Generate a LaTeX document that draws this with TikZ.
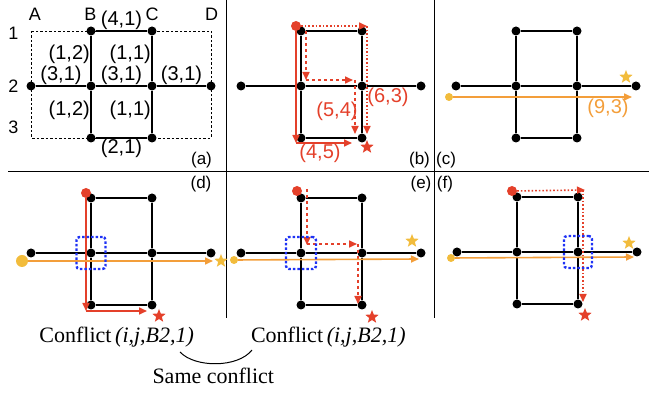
\documentclass[tikz,border=0pt]{standalone}
\usepackage{fontspec}
\setmainfont{Liberation Serif}
\setsansfont{Liberation Sans}
\usetikzlibrary{positioning, arrows.meta, shapes.geometric}
\definecolor{conred}{RGB}{228,64,42}
\definecolor{conorange}{RGB}{243,158,58}
\definecolor{conyellow}{RGB}{242,188,60}
\definecolor{conblue}{RGB}{30,50,245}
\tikzset{
    dot/.style={circle, fill=black, inner sep=0pt, minimum size=9pt},
    edge/.style={line width=2pt, black},
    frame/.style={dash pattern=on 2.5pt off 2pt, line width=0.9pt},
    sep/.style={line width=1pt, black},
    lbl/.style={font=\sffamily\fontsize{20}{22}\selectfont, inner sep=1pt},
    axis/.style={font=\sffamily\fontsize{18}{20}\selectfont, inner sep=1pt},
    tag/.style={font=\sffamily\fontsize{17}{19}\selectfont, inner sep=1pt},
    rlbl/.style={lbl, text=conred},
    olbl/.style={lbl, text=conorange},
    ctext/.style={font=\fontsize{22}{24}\selectfont, inner sep=1pt},
    startdot/.style={circle, fill=#1, inner sep=0pt, minimum size=10pt},
    goal/.style={star, star points=5, star point ratio=2.3, fill=#1, inner sep=0pt, minimum size=14pt},
    redarr/.style={-{Triangle[length=8pt, width=7pt]}, line width=1.6pt, conred},
    orarr/.style={-{Triangle[length=8pt, width=7pt]}, line width=1.6pt, conorange},
    cbox/.style={draw=conblue, line width=2.4pt, dash pattern=on 2.5pt off 2pt, rounded corners=3pt, minimum width=29pt, minimum height=32pt, inner sep=0pt}
}

\begin{document}
\begin{tikzpicture}[x=1pt, y=-1pt]
    \useasboundingbox (0,0) rectangle (649,395);

    % Panel separators
    \draw[sep] (226.5,0) -- (226.5,318);
    \draw[sep] (434.5,0) -- (434.5,318);
    \draw[sep] (8,171.5) -- (649,171.5);

    % Dashed outline of the grid in (a)
    \coordinate (a-A1) at (31,31);
    \coordinate (a-D3) at (211,138);
    \draw[frame] (a-A1) rectangle (a-D3);

    % Same road graph in all six panels
    \foreach \p/\dx/\dy in {a/0/0, b/210/0, c/425/0, d/0/167, e/210/167, f/426/166} {
        \begin{scope}[shift={(\dx,\dy)}, name prefix=\p-]
            \node[dot] (B1) at (91,31) {};
            \node[dot] (C1) at (152,31) {};
            \node[dot] (A2) at (31,86) {};
            \node[dot] (B2) at (91,86) {};
            \node[dot] (C2) at (152,86) {};
            \node[dot] (D2) at (211,86) {};
            \node[dot] (B3) at (91,138) {};
            \node[dot] (C3) at (152,138) {};
            \draw[edge] (B1) -- (C1) -- (C2) -- (C3) -- (B3) -- (B2) -- (B1);
            \draw[edge] (A2) -- (B2) -- (C2) -- (D2);
        \end{scope}
    }

    % (a) grid names and edge costs
    \node[axis] (colA) at (35,14.5) {A};
    \node[axis] (colB) at (90.5,14.5) {B};
    \node[axis] (colC) at (152,14.5) {C};
    \node[axis] (colD) at (211.5,14.5) {D};
    \node[axis] (row1) at (13.5,33) {1};
    \node[axis] (row2) at (13.5,86) {2};
    \node[axis] (row3) at (13.5,127) {3};
    \path (a-B1) -- (a-C1) node[lbl, midway, above] (c41) {(4,1)};
    \path (a-B1) -- (a-B2) node[lbl, pos=0.4, left] (c12a) {(1,2)};
    \path (a-C1) -- (a-C2) node[lbl, pos=0.4, left] (c11a) {(1,1)};
    \path (a-A2) -- (a-B2) node[lbl, midway, above] (c31a) {(3,1)};
    \path (a-B2) -- (a-C2) node[lbl, midway, above] (c31b) {(3,1)};
    \path (a-C2) -- (a-D2) node[lbl, midway, above] (c31c) {(3,1)};
    \path (a-B2) -- (a-B3) node[lbl, pos=0.45, left] (c12b) {(1,2)};
    \path (a-C2) -- (a-C3) node[lbl, pos=0.45, left] (c11b) {(1,1)};
    \path (a-B3) -- (a-C3) node[lbl, midway, below] (c21) {(2,1)};

    % (b) three red routes
    \begin{scope}[shift={(210,0)}, name prefix=b-]
        \node[startdot=conred] (start) at (86,26) {};
        \node[goal=conred] (goal) at (157,147) {};
        \coordinate (s1) at (86,143);
        \coordinate (s2) at (142,143);
        \draw[redarr] (start) -- (s1);
        \draw[redarr] (s1) -- (s2);
        \coordinate (t1) at (157,26);
        \coordinate (t2) at (157,134);
        \draw[redarr, dotted] (start) -- (t1);
        \draw[redarr, dotted] (t1) -- (t2);
        \coordinate (d0) at (96,31);
        \coordinate (d1) at (96,80);
        \coordinate (d2) at (143,80);
        \coordinate (d3) at (145,80);
        \coordinate (d4) at (145,134);
        \draw[redarr, dashed] (d0) -- (d1);
        \draw[redarr, dashed] (d1) -- (d2);
        \draw[redarr, dashed] (d3) -- (d4);
        \node[rlbl] (l45) at (110,153) {(4,5)};
        \node[rlbl] (l54) at (127,111) {(5,4)};
        \node[rlbl] (l63) at (178,97) {(6,3)};
    \end{scope}

    % (c) orange route
    \begin{scope}[shift={(425,0)}, name prefix=c-]
        \node[startdot=conyellow, minimum size=8pt] (start) at (24,97) {};
        \node[goal=conyellow] (goal) at (201,77) {};
        \coordinate (o1) at (207,97);
        \draw[orarr] (start) -- (o1);
        \node[olbl] (l93) at (183,108) {(9,3)};
    \end{scope}

    % (d) solid red route against orange
    \begin{scope}[shift={(0,167)}, name prefix=d-]
        \node[startdot=conred] (start) at (86,26) {};
        \node[goal=conred] (goal) at (159,149) {};
        \coordinate (s1) at (86,144);
        \coordinate (s2) at (147,144);
        \draw[redarr] (start) -- (s1);
        \draw[redarr] (s1) -- (s2);
        \node[startdot=conyellow, minimum size=12pt] (ostart) at (22,94) {};
        \node[goal=conyellow] (ogoal) at (221,94) {};
        \coordinate (o1) at (213,94);
        \draw[orarr] (ostart) -- (o1);
        \node[cbox] (box) at (B2) {};
    \end{scope}

    % (e) dashed red route against orange
    \begin{scope}[shift={(210,167)}, name prefix=e-]
        \node[startdot=conred] (start) at (87,24) {};
        \node[goal=conred] (goal) at (162,150) {};
        \coordinate (d0) at (97,22);
        \coordinate (d1) at (97,78);
        \coordinate (d2) at (147,77);
        \coordinate (d3) at (148,77);
        \coordinate (d4) at (148,137);
        \coordinate (d5) at (97,77);
        \draw[redarr, dashed] (d0) -- (d1);
        \draw[redarr, dashed] (d5) -- (d2);
        \draw[redarr, dashed] (d3) -- (d4);
        \node[startdot=conyellow, minimum size=8pt] (ostart) at (24,93) {};
        \node[goal=conyellow] (ogoal) at (202,74) {};
        \coordinate (o1) at (209,92);
        \draw[orarr] (ostart) -- (o1);
        \node[cbox, minimum width=30pt] (box) at (B2) {};
    \end{scope}

    % (f) dotted red route against orange
    \begin{scope}[shift={(426,166)}, name prefix=f-]
        \node[startdot=conred] (start) at (86,25) {};
        \node[goal=conred] (goal) at (159,149) {};
        \coordinate (t1) at (159,24);
        \coordinate (t0) at (157,24);
        \coordinate (t2) at (157,136);
        \draw[redarr, dotted] (start) -- (t1);
        \draw[redarr, dotted] (t0) -- (t2);
        \node[startdot=conyellow, minimum size=8pt] (ostart) at (25,92) {};
        \node[goal=conyellow] (ogoal) at (203,77) {};
        \coordinate (o1) at (208,91);
        \draw[orarr] (ostart) -- (o1);
        \node[cbox, minimum width=28pt] (box) at (C2) {};
    \end{scope}

    % Panel tags
    \node[tag] (tagA) at (201.5,160) {(a)};
    \node[tag] (tagB) at (419.5,160) {(b)};
    \node[tag] (tagC) at (446,160) {(c)};
    \node[tag] (tagD) at (201,184) {(d)};
    \node[tag] (tagE) at (421,184) {(e)};
    \node[tag] (tagF) at (445,184) {(f)};

    % Conflict captions
    \node[ctext] (confD) at (116.7,337) {Conflict\,\textit{(i,j,B2,1)}};
    \node[ctext] (confE) at (328.3,337) {Conflict\,\textit{(i,j,B2,1)}};
    \node[ctext] (same) at (213.3,376) {Same conflict};
    \coordinate (arcL) at (180,352);
    \coordinate (arcR) at (252,350);
    \draw[line width=1pt] (arcL) .. controls (195,368) and (238,368) .. (arcR);
\end{tikzpicture}
\end{document}
